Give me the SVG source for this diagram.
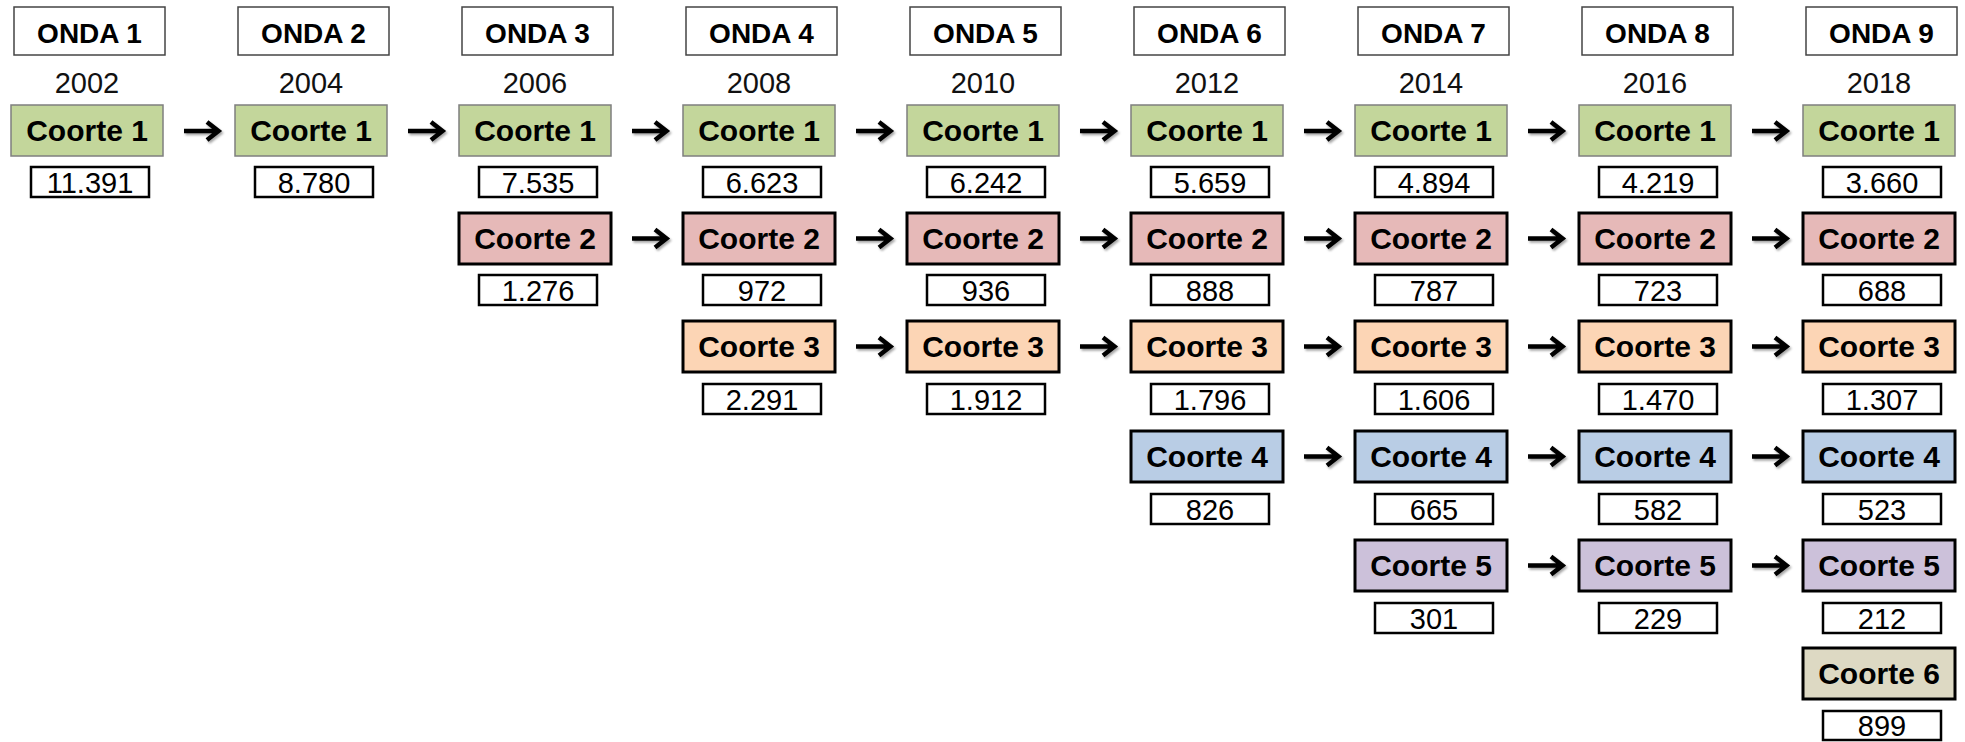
<svg xmlns="http://www.w3.org/2000/svg" xmlns:xlink="http://www.w3.org/1999/xlink" width="1965" height="742" viewBox="0 0 1965 742">
  <style>
    .onda rect { fill: #ffffff; stroke: #444444; stroke-width: 1.5; }
    .onda text { font-family: "Liberation Sans", Arial, sans-serif; font-weight: bold; font-size: 28px; fill: #000; text-anchor: middle; }
    .year { font-family: "Liberation Sans", Arial, sans-serif; font-size: 29px; fill: #111; text-anchor: middle; }
    .c rect { stroke: #000; stroke-width: 3; }
    .c1 rect { fill: #c3d69b; stroke: #7f7f7f; stroke-width: 1.5; }
    .c2 rect { fill: #e6b9b8; }
    .c3 rect { fill: #fcd5b5; }
    .c4 rect { fill: #b9cde5; }
    .c5 rect { fill: #ccc1da; }
    .c6 rect { fill: #ddd9c3; }
    .c text { font-family: "Liberation Sans", Arial, sans-serif; font-weight: bold; font-size: 30px; fill: #000; text-anchor: middle; }
    .n rect { fill: #ffffff; stroke: #000; stroke-width: 2.5; }
    .n text { font-family: "Liberation Sans", Arial, sans-serif; font-size: 29px; fill: #000; text-anchor: middle; }
    .arrow { fill: none; stroke: #000; stroke-width: 4.5; stroke-linejoin: miter; }
  </style>
  <defs>
    <filter id="shadow" x="-20%" y="-60%" width="150%" height="220%">
      <feDropShadow dx="1.5" dy="2" stdDeviation="1.3" flood-color="#000" flood-opacity="0.35"/>
    </filter>
    <g id="arr">
      <path class="arrow" d="M0,0 H33 M23,-9 L34.5,0 L23,9"/>
    </g>
  </defs>
  <rect width="1965" height="742" fill="#ffffff"/>

  <!-- wave headers -->
  <g id="onda1" class="onda"><rect x="14" y="7" width="151" height="48"/><text x="89.5" y="43">ONDA 1</text></g>
  <g id="onda2" class="onda"><rect x="238" y="7" width="151" height="48"/><text x="313.5" y="43">ONDA 2</text></g>
  <g id="onda3" class="onda"><rect x="462" y="7" width="151" height="48"/><text x="537.5" y="43">ONDA 3</text></g>
  <g id="onda4" class="onda"><rect x="686" y="7" width="151" height="48"/><text x="761.5" y="43">ONDA 4</text></g>
  <g id="onda5" class="onda"><rect x="910" y="7" width="151" height="48"/><text x="985.5" y="43">ONDA 5</text></g>
  <g id="onda6" class="onda"><rect x="1134" y="7" width="151" height="48"/><text x="1209.5" y="43">ONDA 6</text></g>
  <g id="onda7" class="onda"><rect x="1358" y="7" width="151" height="48"/><text x="1433.5" y="43">ONDA 7</text></g>
  <g id="onda8" class="onda"><rect x="1582" y="7" width="151" height="48"/><text x="1657.5" y="43">ONDA 8</text></g>
  <g id="onda9" class="onda"><rect x="1806" y="7" width="151" height="48"/><text x="1881.5" y="43">ONDA 9</text></g>

  <!-- years -->
  <g id="years">
    <text class="year" x="87" y="93">2002</text>
    <text class="year" x="311" y="93">2004</text>
    <text class="year" x="535" y="93">2006</text>
    <text class="year" x="759" y="93">2008</text>
    <text class="year" x="983" y="93">2010</text>
    <text class="year" x="1207" y="93">2012</text>
    <text class="year" x="1431" y="93">2014</text>
    <text class="year" x="1655" y="93">2016</text>
    <text class="year" x="1879" y="93">2018</text>
  </g>

  <!-- cohort 1 -->
  <g id="c1-w1" class="c c1"><rect x="11" y="105" width="152" height="51"/><text x="87" y="141">Coorte 1</text></g>
  <g id="c1-w2" class="c c1"><rect x="235" y="105" width="152" height="51"/><text x="311" y="141">Coorte 1</text></g>
  <g id="c1-w3" class="c c1"><rect x="459" y="105" width="152" height="51"/><text x="535" y="141">Coorte 1</text></g>
  <g id="c1-w4" class="c c1"><rect x="683" y="105" width="152" height="51"/><text x="759" y="141">Coorte 1</text></g>
  <g id="c1-w5" class="c c1"><rect x="907" y="105" width="152" height="51"/><text x="983" y="141">Coorte 1</text></g>
  <g id="c1-w6" class="c c1"><rect x="1131" y="105" width="152" height="51"/><text x="1207" y="141">Coorte 1</text></g>
  <g id="c1-w7" class="c c1"><rect x="1355" y="105" width="152" height="51"/><text x="1431" y="141">Coorte 1</text></g>
  <g id="c1-w8" class="c c1"><rect x="1579" y="105" width="152" height="51"/><text x="1655" y="141">Coorte 1</text></g>
  <g id="c1-w9" class="c c1"><rect x="1803" y="105" width="152" height="51"/><text x="1879" y="141">Coorte 1</text></g>

  <g id="n1-w1" class="n"><rect x="31" y="167" width="118" height="30"/><text x="90" y="193">11.391</text></g>
  <g id="n1-w2" class="n"><rect x="255" y="167" width="118" height="30"/><text x="314" y="193">8.780</text></g>
  <g id="n1-w3" class="n"><rect x="479" y="167" width="118" height="30"/><text x="538" y="193">7.535</text></g>
  <g id="n1-w4" class="n"><rect x="703" y="167" width="118" height="30"/><text x="762" y="193">6.623</text></g>
  <g id="n1-w5" class="n"><rect x="927" y="167" width="118" height="30"/><text x="986" y="193">6.242</text></g>
  <g id="n1-w6" class="n"><rect x="1151" y="167" width="118" height="30"/><text x="1210" y="193">5.659</text></g>
  <g id="n1-w7" class="n"><rect x="1375" y="167" width="118" height="30"/><text x="1434" y="193">4.894</text></g>
  <g id="n1-w8" class="n"><rect x="1599" y="167" width="118" height="30"/><text x="1658" y="193">4.219</text></g>
  <g id="n1-w9" class="n"><rect x="1823" y="167" width="118" height="30"/><text x="1882" y="193">3.660</text></g>

  <!-- cohort 2 -->
  <g id="c2-w3" class="c c2"><rect x="459" y="213" width="152" height="51"/><text x="535" y="249">Coorte 2</text></g>
  <g id="c2-w4" class="c c2"><rect x="683" y="213" width="152" height="51"/><text x="759" y="249">Coorte 2</text></g>
  <g id="c2-w5" class="c c2"><rect x="907" y="213" width="152" height="51"/><text x="983" y="249">Coorte 2</text></g>
  <g id="c2-w6" class="c c2"><rect x="1131" y="213" width="152" height="51"/><text x="1207" y="249">Coorte 2</text></g>
  <g id="c2-w7" class="c c2"><rect x="1355" y="213" width="152" height="51"/><text x="1431" y="249">Coorte 2</text></g>
  <g id="c2-w8" class="c c2"><rect x="1579" y="213" width="152" height="51"/><text x="1655" y="249">Coorte 2</text></g>
  <g id="c2-w9" class="c c2"><rect x="1803" y="213" width="152" height="51"/><text x="1879" y="249">Coorte 2</text></g>

  <g id="n2-w3" class="n"><rect x="479" y="275" width="118" height="30"/><text x="538" y="301">1.276</text></g>
  <g id="n2-w4" class="n"><rect x="703" y="275" width="118" height="30"/><text x="762" y="301">972</text></g>
  <g id="n2-w5" class="n"><rect x="927" y="275" width="118" height="30"/><text x="986" y="301">936</text></g>
  <g id="n2-w6" class="n"><rect x="1151" y="275" width="118" height="30"/><text x="1210" y="301">888</text></g>
  <g id="n2-w7" class="n"><rect x="1375" y="275" width="118" height="30"/><text x="1434" y="301">787</text></g>
  <g id="n2-w8" class="n"><rect x="1599" y="275" width="118" height="30"/><text x="1658" y="301">723</text></g>
  <g id="n2-w9" class="n"><rect x="1823" y="275" width="118" height="30"/><text x="1882" y="301">688</text></g>

  <!-- cohort 3 -->
  <g id="c3-w4" class="c c3"><rect x="683" y="321" width="152" height="51"/><text x="759" y="357">Coorte 3</text></g>
  <g id="c3-w5" class="c c3"><rect x="907" y="321" width="152" height="51"/><text x="983" y="357">Coorte 3</text></g>
  <g id="c3-w6" class="c c3"><rect x="1131" y="321" width="152" height="51"/><text x="1207" y="357">Coorte 3</text></g>
  <g id="c3-w7" class="c c3"><rect x="1355" y="321" width="152" height="51"/><text x="1431" y="357">Coorte 3</text></g>
  <g id="c3-w8" class="c c3"><rect x="1579" y="321" width="152" height="51"/><text x="1655" y="357">Coorte 3</text></g>
  <g id="c3-w9" class="c c3"><rect x="1803" y="321" width="152" height="51"/><text x="1879" y="357">Coorte 3</text></g>

  <g id="n3-w4" class="n"><rect x="703" y="384" width="118" height="30"/><text x="762" y="410">2.291</text></g>
  <g id="n3-w5" class="n"><rect x="927" y="384" width="118" height="30"/><text x="986" y="410">1.912</text></g>
  <g id="n3-w6" class="n"><rect x="1151" y="384" width="118" height="30"/><text x="1210" y="410">1.796</text></g>
  <g id="n3-w7" class="n"><rect x="1375" y="384" width="118" height="30"/><text x="1434" y="410">1.606</text></g>
  <g id="n3-w8" class="n"><rect x="1599" y="384" width="118" height="30"/><text x="1658" y="410">1.470</text></g>
  <g id="n3-w9" class="n"><rect x="1823" y="384" width="118" height="30"/><text x="1882" y="410">1.307</text></g>

  <!-- cohort 4 -->
  <g id="c4-w6" class="c c4"><rect x="1131" y="431" width="152" height="51"/><text x="1207" y="467">Coorte 4</text></g>
  <g id="c4-w7" class="c c4"><rect x="1355" y="431" width="152" height="51"/><text x="1431" y="467">Coorte 4</text></g>
  <g id="c4-w8" class="c c4"><rect x="1579" y="431" width="152" height="51"/><text x="1655" y="467">Coorte 4</text></g>
  <g id="c4-w9" class="c c4"><rect x="1803" y="431" width="152" height="51"/><text x="1879" y="467">Coorte 4</text></g>

  <g id="n4-w6" class="n"><rect x="1151" y="494" width="118" height="30"/><text x="1210" y="520">826</text></g>
  <g id="n4-w7" class="n"><rect x="1375" y="494" width="118" height="30"/><text x="1434" y="520">665</text></g>
  <g id="n4-w8" class="n"><rect x="1599" y="494" width="118" height="30"/><text x="1658" y="520">582</text></g>
  <g id="n4-w9" class="n"><rect x="1823" y="494" width="118" height="30"/><text x="1882" y="520">523</text></g>

  <!-- cohort 5 -->
  <g id="c5-w7" class="c c5"><rect x="1355" y="540" width="152" height="51"/><text x="1431" y="576">Coorte 5</text></g>
  <g id="c5-w8" class="c c5"><rect x="1579" y="540" width="152" height="51"/><text x="1655" y="576">Coorte 5</text></g>
  <g id="c5-w9" class="c c5"><rect x="1803" y="540" width="152" height="51"/><text x="1879" y="576">Coorte 5</text></g>

  <g id="n5-w7" class="n"><rect x="1375" y="603" width="118" height="30"/><text x="1434" y="629">301</text></g>
  <g id="n5-w8" class="n"><rect x="1599" y="603" width="118" height="30"/><text x="1658" y="629">229</text></g>
  <g id="n5-w9" class="n"><rect x="1823" y="603" width="118" height="30"/><text x="1882" y="629">212</text></g>

  <!-- cohort 6 -->
  <g id="c6-w9" class="c c6"><rect x="1803" y="648" width="152" height="51"/><text x="1879" y="684">Coorte 6</text></g>
  <g id="n6-w9" class="n"><rect x="1823" y="711" width="118" height="29"/><text x="1882" y="736">899</text></g>

  <!-- connectors between waves -->
  <g id="connectors" filter="url(#shadow)">
    <use xlink:href="#arr" x="184" y="131"/>
    <use xlink:href="#arr" x="408" y="131"/>
    <use xlink:href="#arr" x="632" y="131"/>
    <use xlink:href="#arr" x="856" y="131"/>
    <use xlink:href="#arr" x="1080" y="131"/>
    <use xlink:href="#arr" x="1304" y="131"/>
    <use xlink:href="#arr" x="1528" y="131"/>
    <use xlink:href="#arr" x="1752" y="131"/>

    <use xlink:href="#arr" x="632" y="238.5"/>
    <use xlink:href="#arr" x="856" y="238.5"/>
    <use xlink:href="#arr" x="1080" y="238.5"/>
    <use xlink:href="#arr" x="1304" y="238.5"/>
    <use xlink:href="#arr" x="1528" y="238.5"/>
    <use xlink:href="#arr" x="1752" y="238.5"/>

    <use xlink:href="#arr" x="856" y="346.5"/>
    <use xlink:href="#arr" x="1080" y="346.5"/>
    <use xlink:href="#arr" x="1304" y="346.5"/>
    <use xlink:href="#arr" x="1528" y="346.5"/>
    <use xlink:href="#arr" x="1752" y="346.5"/>

    <use xlink:href="#arr" x="1304" y="456.5"/>
    <use xlink:href="#arr" x="1528" y="456.5"/>
    <use xlink:href="#arr" x="1752" y="456.5"/>

    <use xlink:href="#arr" x="1528" y="565.5"/>
    <use xlink:href="#arr" x="1752" y="565.5"/>
  </g>
</svg>
